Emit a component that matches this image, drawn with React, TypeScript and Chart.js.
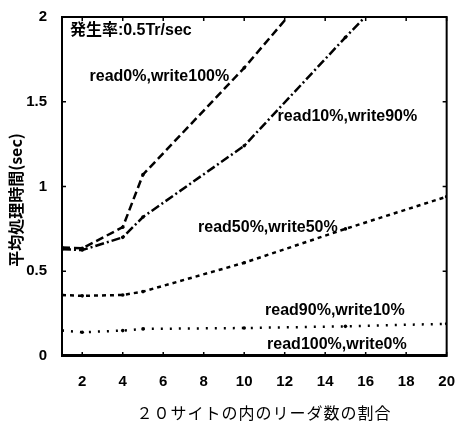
import React, { useEffect, useRef } from "react";
import { Chart, registerables } from "chart.js";

Chart.register(...registerables);

// ---- data ----
const xValues = [1, 2, 4, 5, 10, 15, 20];
const read0write100 = [0.64, 0.635, 0.76, 1.07, 1.7, 2.4, 3.1];
const read10write90 = [0.63, 0.625, 0.7, 0.82, 1.24, 1.88, 2.5];
const read50write50 = [0.36, 0.355, 0.36, 0.38, 0.55, 0.75, 0.94];
const read90write10 = [0.15, 0.14, 0.15, 0.16, 0.165, 0.175, 0.19];
const read100write0 = [0, 0, 0, 0, 0, 0, 0];
const xTickValues = [2, 4, 6, 8, 10, 12, 14, 16, 18, 20];
const yTickValues = [0, 0.5, 1, 1.5, 2];
const yTickLabels = ["0", "0.5", "1", "1.5", "2"];
const seriesNames = [
  "read0%,write100%",
  "read10%,write90%",
  "read50%,write50%",
  "read90%,write10%",
  "read100%,write0%",
];
const noteText = "発生率:0.5Tr/sec";
const xTitle = "２０サイトの内のリーダ数の割合";
const yTitle = "平均処理時間(sec)";
// label anchors in data coordinates (x, y)
const labelAnchors = [
  [2.36, 1.65],
  [11.65, 1.41],
  [7.72, 0.755],
  [11.03, 0.27],
  [11.13, 0.07],
];
const noteAnchor = [1.39, 1.92];

const LABEL_FONT = "bold 16px 'Liberation Sans', Arial, 'Noto Sans CJK JP'";

const toPts = (ys: number[]) => ys.map((y, i) => ({ x: xValues[i], y }));

const decorPlugin = {
  id: "decor",
  afterDatasetsDraw(chart: any) {
    const { ctx, chartArea: a, scales } = chart;
    const xs = scales.x;
    const ys = scales.y;
    ctx.save();
    ctx.strokeStyle = "#000";
    ctx.lineWidth = 2;
    ctx.setLineDash([]);
    ctx.strokeRect(a.left, a.top, a.right - a.left, a.bottom - a.top);
    // inward ticks
    ctx.lineWidth = 1.5;
    ctx.beginPath();
    xTickValues.forEach((v) => {
      const px = xs.getPixelForValue(v);
      ctx.moveTo(px, a.bottom);
      ctx.lineTo(px, a.bottom - 4);
      ctx.moveTo(px, a.top);
      ctx.lineTo(px, a.top + 4);
    });
    yTickValues.forEach((v) => {
      const py = ys.getPixelForValue(v);
      ctx.moveTo(a.left, py);
      ctx.lineTo(a.left + 4, py);
      ctx.moveTo(a.right, py);
      ctx.lineTo(a.right - 4, py);
    });
    ctx.stroke();

    // series labels
    ctx.fillStyle = "#000";
    ctx.font = LABEL_FONT;
    ctx.textAlign = "left";
    ctx.textBaseline = "middle";
    seriesNames.forEach((name, i) => {
      const [lx, ly] = labelAnchors[i];
      ctx.fillText(name, xs.getPixelForValue(lx), ys.getPixelForValue(ly));
    });
    ctx.fillText(
      noteText,
      xs.getPixelForValue(noteAnchor[0]),
      ys.getPixelForValue(noteAnchor[1])
    );

    // axis titles
    ctx.font = "16px 'Noto Sans CJK JP'";
    ctx.textAlign = "center";
    try {
      (ctx as any).letterSpacing = "1px";
    } catch (e) {}
    ctx.fillText(xTitle, 264, 413);
    try {
      (ctx as any).letterSpacing = "0px";
    } catch (e) {}
    ctx.save();
    ctx.translate(16, 200);
    ctx.rotate(-Math.PI / 2);
    ctx.font = "bold 16px 'Noto Sans CJK JP'";
    ctx.fillText(yTitle, 0, 0);
    ctx.restore();
    ctx.restore();
  },
};

export default function App() {
  const ref = useRef<HTMLCanvasElement>(null);

  useEffect(() => {
    if (!ref.current) return;
    const base = {
      borderColor: "#000",
      backgroundColor: "#000",
      pointRadius: 1.8,
      pointBorderWidth: 0,
      fill: false,
      tension: 0,
      clip: 0,
    };
    const chart = new Chart(ref.current, {
      type: "line",
      data: {
        datasets: [
          { ...base, label: seriesNames[0], data: toPts(read0write100), borderWidth: 2.5, borderDash: [8, 4] },
          { ...base, label: seriesNames[1], data: toPts(read10write90), borderWidth: 2.5, borderDash: [9, 3, 2, 3] },
          { ...base, label: seriesNames[2], data: toPts(read50write50), borderWidth: 2.5, borderDash: [4, 4] },
          { ...base, label: seriesNames[3], data: toPts(read90write10), borderWidth: 2.5, borderDash: [2, 7] },
          { ...base, label: seriesNames[4], data: toPts(read100write0), borderWidth: 4, borderDash: [] },
        ] as any,
      },
      plugins: [decorPlugin],
      options: {
        responsive: false,
        animation: false,
        layout: { padding: { left: 0, right: 12, top: 17, bottom: 0 } },
        plugins: { legend: { display: false }, tooltip: { enabled: false } },
        scales: {
          x: {
            type: "linear",
            min: 1,
            max: 20,
            grid: { display: false },
            border: { display: false },
            afterBuildTicks: (s: any) => {
              s.ticks = xTickValues.map((v) => ({ value: v }));
            },
            afterFit: (s: any) => {
              s.height = 69;
            },
            ticks: {
              padding: 9,
              color: "#000",
              maxRotation: 0,
              font: { family: "'Liberation Sans', Arial", size: 15, weight: "bold" },
            },
          },
          y: {
            type: "linear",
            min: 0,
            max: 2,
            grid: { display: false },
            border: { display: false },
            afterBuildTicks: (s: any) => {
              s.ticks = yTickValues.map((v) => ({ value: v }));
            },
            afterFit: (s: any) => {
              s.width = 62;
            },
            ticks: {
              padding: 7,
              color: "#000",
              callback: (v: any) => {
                const i = yTickValues.indexOf(Number(v));
                return i >= 0 ? yTickLabels[i] : "";
              },
              font: { family: "'Liberation Sans', Arial", size: 15, weight: "bold" },
            },
          },
        },
      } as any,
    });
    return () => chart.destroy();
  }, []);

  return (
    <div style={{ position: "fixed", left: 0, top: 0, width: 464, height: 425, background: "#fff" }}>
      <canvas ref={ref} width={464} height={425} style={{ display: "block" }} />
    </div>
  );
}
